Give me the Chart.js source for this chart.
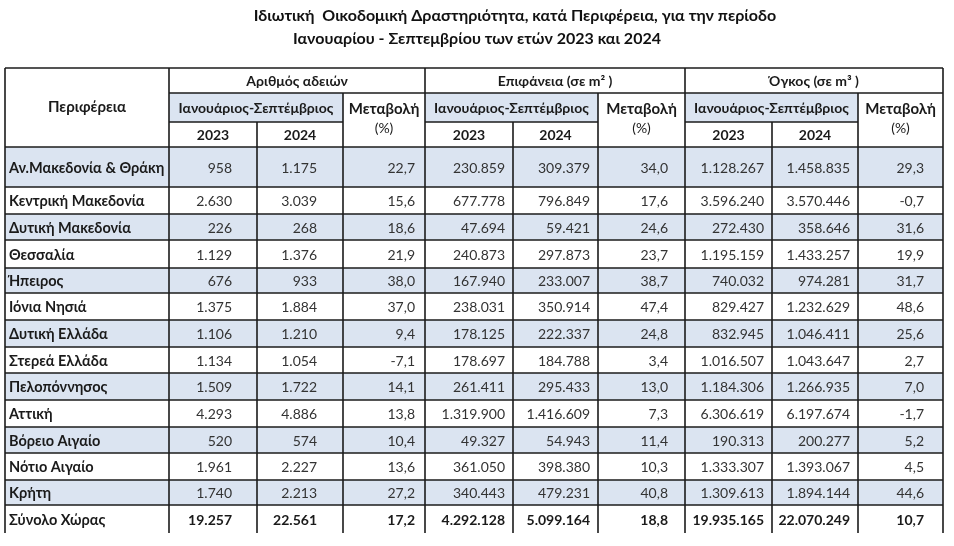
<!DOCTYPE html>
<html>
<head>
<meta charset="utf-8">
<script src="https://cdn.jsdelivr.net/npm/chart.js@4.4.1/dist/chart.umd.min.js"></script>
<style>
  html, body { margin: 0; padding: 0; background: #ffffff; }
  canvas { display: block; }
</style>
</head>
<body>
<canvas id="buildingTable" width="954" height="546"></canvas>
<script>
var regions = ['Αν.Μακεδονία & Θράκη', 'Κεντρική Μακεδονία', 'Δυτική Μακεδονία', 'Θεσσαλία', 'Ήπειρος',
    'Ιόνια Νησιά', 'Δυτική Ελλάδα', 'Στερεά Ελλάδα', 'Πελοπόννησος', 'Αττική', 'Βόρειο Αιγαίο',
    'Νότιο Αιγαίο', 'Κρήτη', 'Σύνολο Χώρας'];

var permits2023 = [958, 2630, 226, 1129, 676, 1375, 1106, 1134, 1509, 4293, 520, 1961, 1740, 19257];
var permits2024 = [1175, 3039, 268, 1376, 933, 1884, 1210, 1054, 1722, 4886, 574, 2227, 2213, 22561];
var permitsChange = [22.7, 15.6, 18.6, 21.9, 38.0, 37.0, 9.4, -7.1, 14.1, 13.8, 10.4, 13.6, 27.2, 17.2];

var area2023 = [230859, 677778, 47694, 240873, 167940, 238031, 178125, 178697, 261411, 1319900, 49327, 361050, 340443, 4292128];
var area2024 = [309379, 796849, 59421, 297873, 233007, 350914, 222337, 184788, 295433, 1416609, 54943, 398380, 479231, 5099164];
var areaChange = [34.0, 17.6, 24.6, 23.7, 38.7, 47.4, 24.8, 3.4, 13.0, 7.3, 11.4, 10.3, 40.8, 18.8];

var volume2023 = [1128267, 3596240, 272430, 1195159, 740032, 829427, 832945, 1016507, 1184306, 6306619, 190313, 1333307, 1309613, 19935165];
var volume2024 = [1458835, 3570446, 358646, 1433257, 974281, 1232629, 1046411, 1043647, 1266935, 6197674, 200277, 1393067, 1894144, 22070249];
var volumeChange = [29.3, -0.7, 31.6, 19.9, 31.7, 48.6, 25.6, 2.7, 7.0, -1.7, 5.2, 4.5, 44.6, 10.7];

var groupLabels = ['Αριθμός αδειών', 'Επιφάνεια (σε m² )', 'Όγκος (σε m³ )'];
var periodLabel = 'Ιανουάριος-Σεπτέμβριος';
var yearLabels = ['2023', '2024'];
var changeLabel = ['Μεταβολή', '(%)'];
var regionHeader = 'Περιφέρεια';
var titleLines = ['Ιδιωτική  Οικοδομική Δραστηριότητα, κατά Περιφέρεια, για την περίοδο',
    'Ιανουαρίου - Σεπτεμβρίου των ετών 2023 και 2024'];

// layout of the grid (table units, mapped through the chart scales)
var colEdges = [5, 169, 257, 343, 425, 513, 598, 685, 772, 858, 943];
var rowEdges = [68, 93, 122, 147, 187, 214, 240, 268, 293, 320, 347, 373, 400, 427, 453, 480, 505, 533];
var padRight = [0, 25, 26, 10, 8, 8, 17, 8, 8, 19];

var FONT = 'Lato, "Noto Sans", sans-serif';
var BLUE = '#dbe4f1';
var LINE = '#1c1c1c';

function fmtInt(v) {
    var s = String(Math.abs(v));
    var out = '';
    while (s.length > 3) {
        out = '.' + s.slice(-3) + out;
        s = s.slice(0, -3);
    }
    return (v < 0 ? '-' : '') + s + out;
}

function fmtPct(v) {
    return v.toFixed(1).replace('.', ',');
}

var tablePlugin = {
    id: 'tablePlugin',
    afterDraw: function(chart) {
        var ctx = chart.ctx;
        var xs = chart.scales.x;
        var ys = chart.scales.y;
        var X = function(v) { return xs.getPixelForValue(v); };
        var Y = function(v) { return ys.getPixelForValue(v); };

        ctx.save();

        // title
        ctx.fillStyle = '#111';
        ctx.font = 'bold 16px ' + FONT;
        ctx.textAlign = 'center';
        ctx.textBaseline = 'middle';
        ctx.fillText(titleLines[0], X(515), Y(16));
        ctx.fillText(titleLines[1], X(477), Y(39));

        // backgrounds
        ctx.fillStyle = BLUE;
        for (var g = 0; g < 3; g++) {
            var c = 1 + g * 3;
            ctx.fillRect(X(colEdges[c]), Y(rowEdges[1]), X(colEdges[c + 2]) - X(colEdges[c]), Y(rowEdges[2]) - Y(rowEdges[1]));
        }
        for (var r = 0; r < regions.length; r++) {
            if (r % 2 === 0 && r < regions.length - 1) {
                ctx.fillRect(X(colEdges[0]), Y(rowEdges[r + 3]), X(colEdges[10]) - X(colEdges[0]), Y(rowEdges[r + 4]) - Y(rowEdges[r + 3]));
            }
        }

        // header text
        ctx.fillStyle = '#1a1a1a';
        ctx.textAlign = 'center';
        ctx.font = 'bold 15px ' + FONT;
        ctx.fillText(regionHeader, X((colEdges[0] + colEdges[1]) / 2), Y(107));
        for (var g = 0; g < 3; g++) {
            var c = 1 + g * 3;
            ctx.font = 'bold 14px ' + FONT;
            ctx.fillText(groupLabels[g], X((colEdges[c] + colEdges[c + 3]) / 2), Y((rowEdges[0] + rowEdges[1]) / 2 + 1));
            ctx.fillText(periodLabel, X((colEdges[c] + colEdges[c + 2]) / 2), Y((rowEdges[1] + rowEdges[2]) / 2 + 1));
            ctx.fillText(yearLabels[0], X((colEdges[c] + colEdges[c + 1]) / 2), Y((rowEdges[2] + rowEdges[3]) / 2 + 1));
            ctx.fillText(yearLabels[1], X((colEdges[c + 1] + colEdges[c + 2]) / 2), Y((rowEdges[2] + rowEdges[3]) / 2 + 1));
            ctx.font = 'bold 15px ' + FONT;
            ctx.fillText(changeLabel[0], X((colEdges[c + 2] + colEdges[c + 3]) / 2), Y(109));
            ctx.font = '14px ' + FONT;
            ctx.fillText(changeLabel[1], X((colEdges[c + 2] + colEdges[c + 3]) / 2), Y(128));
        }

        // body text
        var cols = [permits2023, permits2024, permitsChange, area2023, area2024, areaChange, volume2023, volume2024, volumeChange];
        for (var r = 0; r < regions.length; r++) {
            var yc = Y((rowEdges[r + 3] + rowEdges[r + 4]) / 2 + 1);
            var total = r === regions.length - 1;
            ctx.fillStyle = '#1a1a1a';
            ctx.font = 'bold 14.5px ' + FONT;
            ctx.textAlign = 'left';
            ctx.fillText(regions[r], X(colEdges[0] + 4), yc);
            ctx.textAlign = 'right';
            ctx.font = (total ? 'bold ' : '') + '14px ' + FONT;
            ctx.fillStyle = total ? '#1a1a1a' : '#333333';
            for (var k = 0; k < cols.length; k++) {
                var v = cols[k][r];
                var txt = (k % 3 === 2) ? fmtPct(v) : fmtInt(v);
                ctx.fillText(txt, X(colEdges[k + 2] - padRight[k + 1]), yc);
            }
        }

        // grid lines
        ctx.strokeStyle = LINE;
        ctx.lineWidth = 1.6;
        var vStart = [0, 0, 2, 1, 0, 2, 1, 0, 2, 1, 0];
        var bottom = rowEdges[rowEdges.length - 1];
        ctx.beginPath();
        for (var i = 0; i < colEdges.length; i++) {
            ctx.moveTo(X(colEdges[i]), Y(rowEdges[vStart[i]]));
            ctx.lineTo(X(colEdges[i]), Y(bottom));
        }
        ctx.moveTo(X(colEdges[0]), Y(rowEdges[0]));
        ctx.lineTo(X(colEdges[10]), Y(rowEdges[0]));
        ctx.moveTo(X(colEdges[1]), Y(rowEdges[1]));
        ctx.lineTo(X(colEdges[10]), Y(rowEdges[1]));
        for (var g = 0; g < 3; g++) {
            var c = 1 + g * 3;
            ctx.moveTo(X(colEdges[c]), Y(rowEdges[2]));
            ctx.lineTo(X(colEdges[c + 2]), Y(rowEdges[2]));
        }
        for (var j = 3; j < rowEdges.length - 1; j++) {
            ctx.moveTo(X(colEdges[0]), Y(rowEdges[j]));
            ctx.lineTo(X(colEdges[10]), Y(rowEdges[j]));
        }
        ctx.stroke();

        ctx.restore();
    }
};

var canvas = document.getElementById('buildingTable');

var chart = new Chart(canvas, {
    type: 'scatter',
    data: {
        datasets: []
    },
    options: {
        responsive: false,
        animation: false,
        layout: { padding: 0 },
        scales: {
            x: { type: 'linear', display: false, min: 0, max: 954 },
            y: { type: 'linear', display: false, min: 0, max: 546, reverse: true }
        },
        plugins: {
            legend: { display: false },
            tooltip: { enabled: false }
        }
    },
    plugins: [tablePlugin]
});
</script>
</body>
</html>
